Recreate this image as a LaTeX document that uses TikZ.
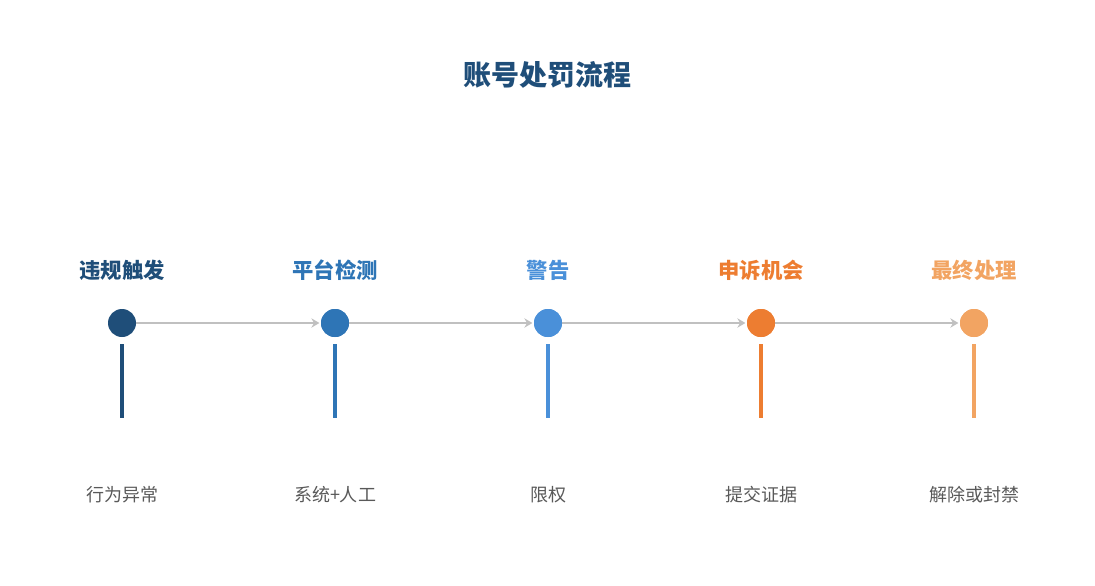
\documentclass[tikz,border=0pt]{standalone}
\usepackage{fontspec}
\setmainfont{Noto Sans CJK SC}
\usetikzlibrary{positioning,arrows.meta}
\definecolor{stepA}{HTML}{1F4E79}
\definecolor{stepB}{HTML}{2E75B6}
\definecolor{stepC}{HTML}{4A90D9}
\definecolor{stepD}{HTML}{ED7D31}
\definecolor{stepE}{HTML}{F2A462}
\definecolor{linkgray}{HTML}{C0C0C0}
\definecolor{notegray}{HTML}{595959}
\tikzset{
  dot/.style = {circle, fill=#1, minimum size=21pt, inner sep=0pt},
  head/.style = {font=\fontsize{16}{18}\selectfont\bfseries, text=#1},
  note/.style = {font=\fontsize{13.5}{16}\selectfont, text=notegray},
  stem/.style = {line width=2.4pt, draw=#1},
  link/.style = {-{Stealth[length=6pt,width=7pt]}, line width=2.2pt, linkgray, shorten >=1pt}
}
\begin{document}
\begin{tikzpicture}[x=0.75pt, y=-0.75pt]
    \useasboundingbox (0,0) rectangle (1095,585);
    \node[font=\fontsize{21}{24}\selectfont\bfseries, text=stepA] (title) at (547,75) {账号处罚流程};
    %%%%%%%%%%
    \foreach \i/\x/\c/\h/\n in {1/122/stepA/违规触发/行为异常, 2/335/stepB/平台检测/系统+人工, 3/548/stepC/警告/限权/轻则警告重则冻结, 4/761/stepD/申诉机会/提交证据, 5/974/stepE/最终处理/解除或封禁}{
        \node[dot=\c] (d\i) at (\x,323) {};
        \node[head=\c] (h\i) at (\x,270) {\h};
        \node[note] (n\i) at (\x,495) {\n};
        \coordinate (s\i) at (\x,344);
        \coordinate (e\i) at (\x,418);
        \draw[stem=\c] (s\i) -- (e\i);
    }
    %%%%%%%%%%
    \foreach \i/\j in {1/2, 2/3, 3/4, 4/5}
        \draw[link] (d\i) -- (d\j);
    % circles over the arrow ends
    \foreach \i/\c in {2/stepB, 3/stepC, 4/stepD, 5/stepE}
        \node[dot=\c] at (d\i) {};
\end{tikzpicture}
\end{document}
